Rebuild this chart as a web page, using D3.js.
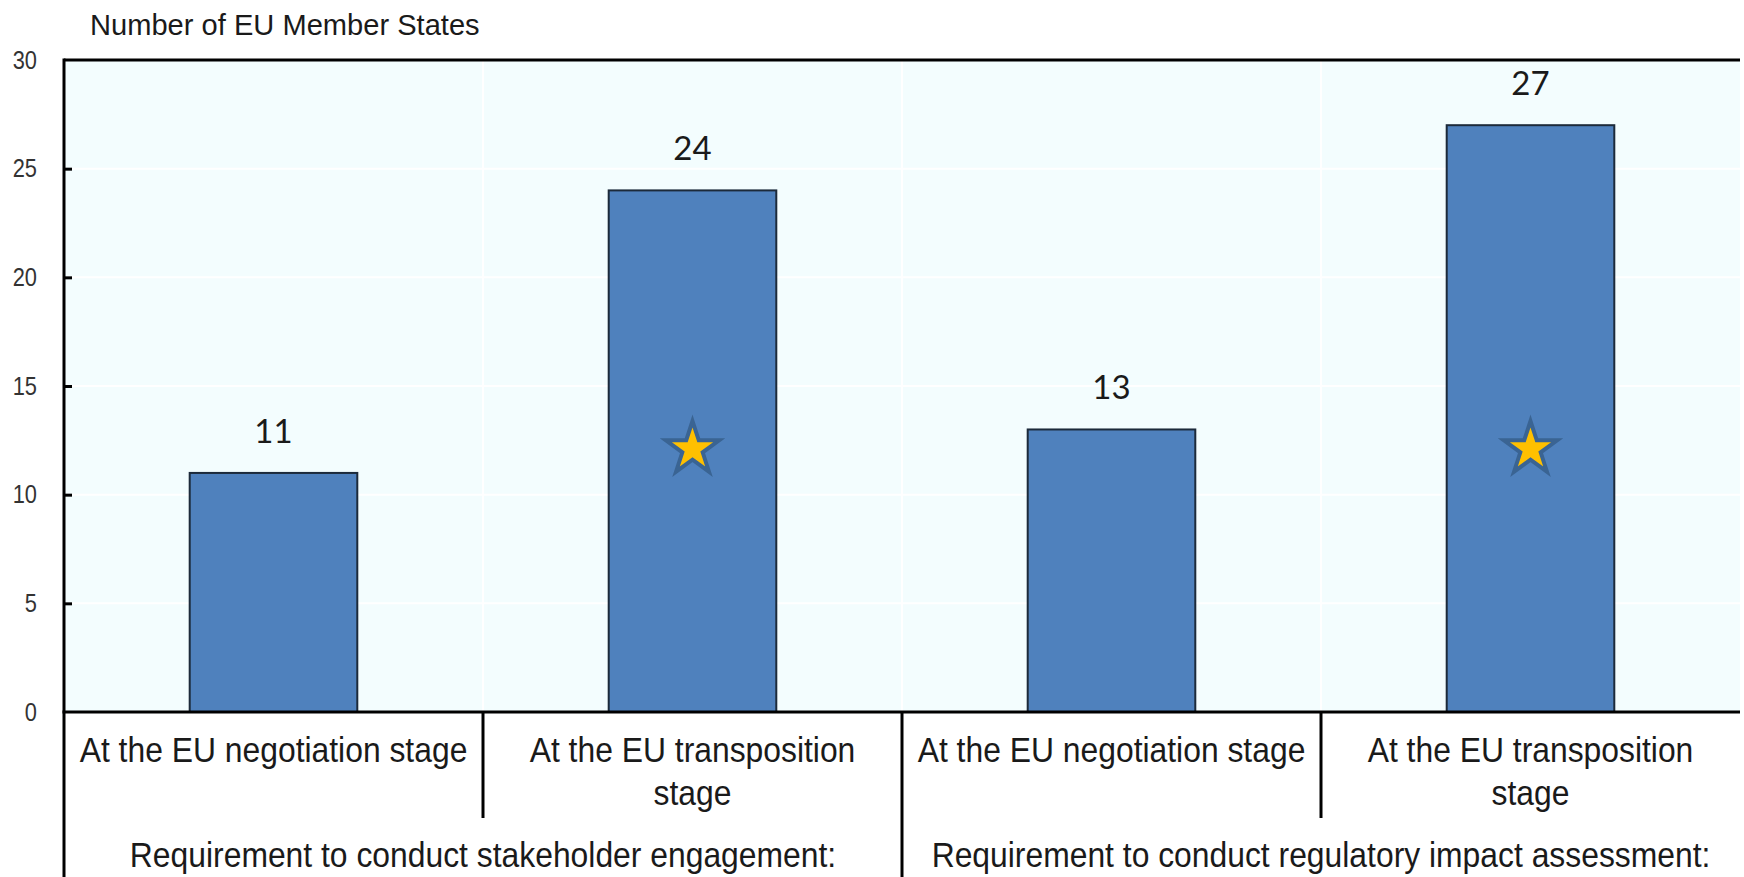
<!DOCTYPE html>
<html>
<head>
<meta charset="utf-8">
<script src="https://cdn.jsdelivr.net/npm/d3@7"></script>
<style>
  body { margin: 0; background: #fff; }
  svg { display: block; }
  .tick text { font-family: "Liberation Sans", Arial, sans-serif; font-size: 26px; fill: #333; }
  .cat-label, .group-label, .y-title { font-family: "Liberation Sans", Arial, sans-serif; fill: #1a1a1a; }
  .value-label { font-family: Lato, "Open Sans", sans-serif; font-size: 33px; fill: #1a1a1a; }
</style>
</head>
<body>
<svg id="chart" width="1744" height="877"></svg>
<script>
// data
const categories = ["neg1", "trans1", "neg2", "trans2"];
const categoryLines = [
    ["At the EU negotiation stage"],
    ["At the EU transposition", "stage"],
    ["At the EU negotiation stage"],
    ["At the EU transposition", "stage"]
];
const groups = [
    "Requirement to conduct stakeholder engagement:",
    "Requirement to conduct regulatory impact assessment:"
];
const values = [11, 24, 13, 27];
const starValues = [null, 12.1, null, 12.1];
const yTicks = [0, 5, 10, 15, 20, 25, 30];
const yTitle = "Number of EU Member States";

let svg = d3.select("#chart");
let plotLeft = 64, plotRight = 1740, plotTop = 60, zeroY = 712, tableBottom = 877;
let squeeze = 0.91; // narrow look of the labels

let xCat = d3.scaleBand().domain(categories).range([plotLeft, plotRight]).padding(0);
let xBar = d3.scaleBand().domain(categories).range([plotLeft, plotRight])
    .paddingInner(0.6).paddingOuter(0.3);
let y = d3.scaleLinear().domain([0, 30]).range([zeroY, plotTop]);

// plot background
svg.append("rect")
    .attr("x", plotLeft).attr("y", plotTop)
    .attr("width", plotRight - plotLeft).attr("height", zeroY - plotTop)
    .attr("fill", "#f3fdfe");

// white gridlines
svg.append("g").selectAll("line")
    .data(yTicks.slice(1, -1))
    .enter().append("line")
    .attr("x1", plotLeft).attr("x2", plotRight)
    .attr("y1", d => y(d)).attr("y2", d => y(d))
    .attr("stroke", "#fff").attr("stroke-width", 2);

svg.append("g").selectAll("line")
    .data(categories.slice(1))
    .enter().append("line")
    .attr("x1", d => xCat(d)).attr("x2", d => xCat(d))
    .attr("y1", plotTop).attr("y2", zeroY)
    .attr("stroke", "#fff").attr("stroke-width", 2);

// bars
svg.append("g").selectAll("rect")
    .data(values)
    .enter().append("rect")
    .attr("x", (d, i) => xBar(categories[i]))
    .attr("y", d => y(d))
    .attr("width", xBar.bandwidth())
    .attr("height", d => zeroY - y(d))
    .attr("fill", "#4f81bd")
    .attr("stroke", "#1c2a3a")
    .attr("stroke-width", 2);

// value labels
svg.append("g").selectAll("text")
    .data(values)
    .enter().append("text")
    .attr("class", "value-label")
    .attr("x", (d, i) => xCat(categories[i]) + xCat.bandwidth() / 2)
    .attr("y", d => y(d) - 30)
    .attr("text-anchor", "middle")
    .text(d => d);

// stars
let star = d3.symbol(d3.symbolStar).size(880);
svg.append("g").selectAll("path")
    .data(starValues.map((v, i) => ({ v: v, c: categories[i] })).filter(d => d.v !== null))
    .enter().append("path")
    .attr("d", star)
    .attr("transform", d => "translate(" + (xCat(d.c) + xCat.bandwidth() / 2) + "," + y(d.v) + ")")
    .attr("fill", "#ffc000")
    .attr("stroke", "#3a6493")
    .attr("stroke-width", 4)
    .attr("stroke-linejoin", "miter");

// y axis
let yAxis = svg.append("g")
    .attr("transform", "translate(" + plotLeft + ",0)")
    .call(d3.axisLeft(y).tickValues(yTicks).tickSizeInner(-8).tickSizeOuter(0).tickPadding(27 / 0.84));
yAxis.select(".domain").remove();
yAxis.selectAll(".tick text").attr("transform", "scale(0.84,1)");
yAxis.selectAll(".tick line").attr("stroke", "#000").attr("stroke-width", 3);
yAxis.selectAll(".tick").filter(d => d === 0 || d === 30).select("line").remove();

// frame lines
svg.append("line").attr("x1", plotLeft).attr("x2", plotRight).attr("y1", plotTop).attr("y2", plotTop)
    .attr("stroke", "#000").attr("stroke-width", 3);
svg.append("line").attr("x1", plotLeft - 1.5).attr("x2", plotRight).attr("y1", zeroY).attr("y2", zeroY)
    .attr("stroke", "#000").attr("stroke-width", 3);
svg.append("line").attr("x1", plotLeft).attr("x2", plotLeft).attr("y1", plotTop - 1.5).attr("y2", tableBottom)
    .attr("stroke", "#000").attr("stroke-width", 3);

// separators in the category table
svg.append("g").selectAll("line")
    .data(categories.slice(1))
    .enter().append("line")
    .attr("x1", d => xCat(d)).attr("x2", d => xCat(d))
    .attr("y1", zeroY).attr("y2", (d, i) => i === 1 ? tableBottom : 818)
    .attr("stroke", "#000").attr("stroke-width", 3);

// category labels
let catText = svg.append("g").selectAll("text")
    .data(categoryLines)
    .enter().append("text")
    .attr("class", "cat-label")
    .attr("font-size", 35)
    .attr("text-anchor", "middle")
    .attr("transform", (d, i) => "translate(" + (xCat(categories[i]) + xCat.bandwidth() / 2) + ",762) scale(" + squeeze + ",1)");
catText.selectAll("tspan")
    .data(d => d)
    .enter().append("tspan")
    .attr("x", 0)
    .attr("y", (d, i) => i * 43)
    .text(d => d);

// group labels
svg.append("g").selectAll("text")
    .data(groups)
    .enter().append("text")
    .attr("class", "group-label")
    .attr("font-size", 35)
    .attr("text-anchor", "middle")
    .attr("transform", (d, i) => "translate(" + ((xCat(categories[i * 2]) + xCat(categories[i * 2 + 1]) + xCat.bandwidth()) / 2) + ",867) scale(" + squeeze + ",1)")
    .text(d => d);

// y title
svg.append("text")
    .attr("class", "y-title")
    .attr("transform", "translate(90,35) scale(0.97,1)")
    .attr("font-size", 30)
    .text(yTitle);
</script>
</body>
</html>
